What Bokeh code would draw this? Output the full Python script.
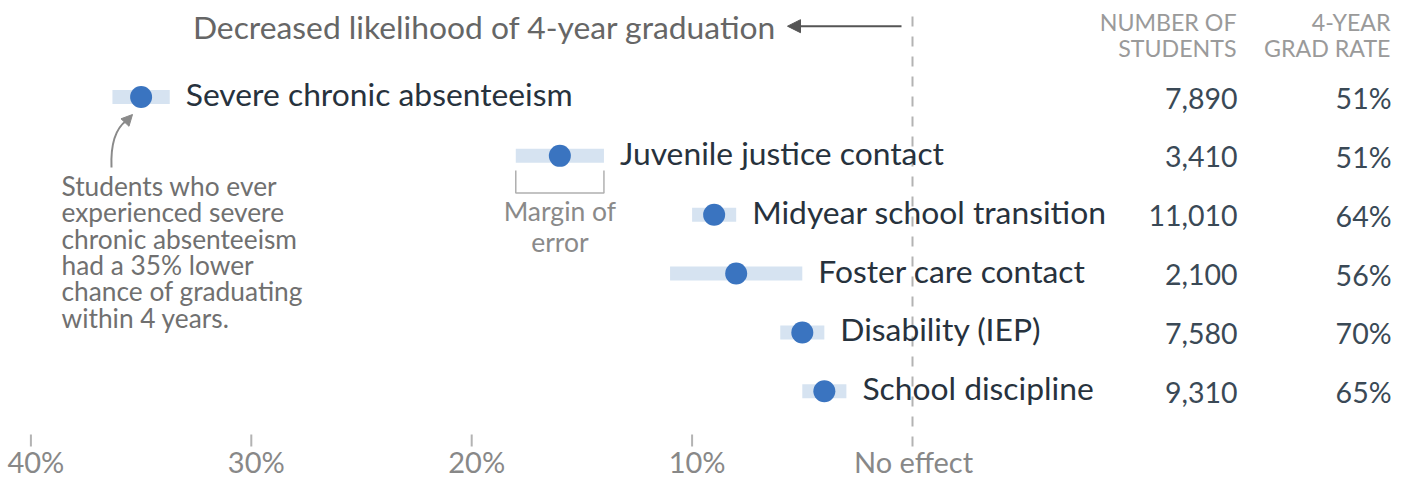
from bokeh.plotting import figure
from bokeh.models import Range1d, Arrow, NormalHead, ColumnDataSource
from bokeh.core.properties import value
from bokeh.embed import file_html
from bokeh.resources import INLINE

# ---------------- data ----------------
categories = ["Severe chronic absenteeism", "Juvenile justice contact",
              "Midyear school transition", "Foster care contact",
              "Disability (IEP)", "School discipline"]
effect = [35.0, 16.0, 9.0, 8.0, 5.0, 4.0]          # decrease in likelihood (%)
ci_low = [33.7, 14.0, 8.0, 5.0, 4.0, 3.0]
ci_high = [36.3, 18.0, 10.0, 11.0, 6.0, 5.0]
n_students = [7890, 3410, 11010, 2100, 7580, 9310]
grad_rate = [51, 51, 64, 56, 70, 65]
tick_values = [40, 30, 20, 10, 0]
tick_labels = ["40%", "30%", "20%", "10%", "No effect"]

# ---------------- geometry helpers (figure pixels -> data) ----------------
S = 22.04      # px per percentage point
ROW = 58.86    # px per row


def px2x(px):
    return (912 - px) / S


def py2y(py):
    return (py - 96.5) / ROW


FONT = value("Lato")
DARK = "#27323d"
NUM = "#3a4956"
GRAY = "#707070"
LIGHT = "#9a9a9a"
DOT = "#3a74c0"
BAR = "#d6e3f1"

p = figure(width=1392, height=482, output_backend="svg", toolbar_location=None,
           x_range=Range1d(px2x(0), px2x(1392)), y_range=Range1d(py2y(482), py2y(0)),
           min_border=0, min_border_left=0, min_border_right=0,
           min_border_top=0, min_border_bottom=0)
p.axis.visible = False
p.grid.visible = False
p.outline_line_color = None
p.background_fill_color = "white"
p.border_fill_color = "white"

rows = list(range(len(categories)))
src = ColumnDataSource(dict(
    y=rows, cat=categories, eff=effect, lo=ci_low, hi=ci_high,
    n=[f"{v:,}" for v in n_students], g=[f"{v}%" for v in grad_rate],
    yl=[r - 3.0 / ROW for r in rows], yn=[r + 1.0 / ROW for r in rows],
    xn=[px2x(1237)] * len(rows), xg=[px2x(1391)] * len(rows),
))

# no-effect dashed line
p.segment(x0=[0], y0=[py2y(16)], x1=[0], y1=[py2y(449)], line_color="#b3b3b3",
          line_width=2, line_dash="10 10")

# error bars and dots
p.segment(x0="lo", y0="y", x1="hi", y1="y", source=src, line_color=BAR,
          line_width=14, line_cap="butt")
p.scatter(x="eff", y="y", source=src, size=22, fill_color=DOT, line_color=None)

# category labels
p.text(x="lo", y="yl", text="cat", source=src, x_offset=16, text_font=FONT,
       text_font_size="31.8px", text_color=DARK, text_baseline="middle",
       text_align="left")

# table values
p.text(x="xn", y="yn", text="n", source=src, text_font=FONT, text_font_size="28.5px",
       text_color=NUM, text_baseline="middle", text_align="right")
p.text(x="xg", y="yn", text="g", source=src, text_font=FONT, text_font_size="28.5px",
       text_color=NUM, text_baseline="middle", text_align="right")

# column headers
hx = [px2x(1236), px2x(1236), px2x(1390), px2x(1390)]
hy = [py2y(21.5), py2y(47), py2y(21.5), py2y(47)]
p.text(x=hx, y=hy, text=["NUMBER OF", "STUDENTS", "4-YEAR", "GRAD RATE"],
       text_font=FONT, text_font_size="23.2px", text_color=LIGHT,
       text_baseline="middle", text_align="right")

# top direction label + arrow
p.text(x=[px2x(776)], y=[py2y(26.5)], text=["Decreased likelihood of 4-year graduation"],
       text_font=FONT, text_font_size="31.8px", text_color="#666666",
       text_baseline="middle", text_align="right")
p.add_layout(Arrow(x_start=px2x(901), y_start=py2y(25.7), x_end=px2x(787), y_end=py2y(25.7),
                   line_color="#555555", line_width=2,
                   end=NormalHead(size=13, fill_color="#555555", line_color="#555555")))

# x ticks and labels
TICK_TOP, TICK_BOT, LAB_Y = 434, 446, 461
p.segment(x0=tick_values[:-1], y0=[py2y(TICK_TOP)] * 4, x1=tick_values[:-1],
          y1=[py2y(TICK_BOT)] * 4, line_color="#b3b3b3", line_width=2)
p.text(x=tick_values[:-1], y=[py2y(LAB_Y)] * 4, text=tick_labels[:-1], x_offset=5,
       text_font=FONT, text_font_size="29px", text_color="#888888",
       text_baseline="middle", text_align="center")
p.text(x=[tick_values[-1]], y=[py2y(LAB_Y)], text=[tick_labels[-1]], x_offset=1,
       text_font=FONT, text_font_size="29px", text_color="#888888",
       text_baseline="middle", text_align="center")

# annotation for severe chronic absenteeism
note = ["Students who ever", "experienced severe", "chronic absenteeism",
        "had a 35% lower", "chance of graduating", "within 4 years."]
p.text(x=[px2x(61)] * len(note), y=[py2y(185.5 + 26.3 * k) for k in range(len(note))],
       text=note, text_font=FONT, text_font_size="26.3px", text_color=GRAY,
       text_baseline="middle", text_align="left")
p.bezier(x0=[px2x(111)], y0=[py2y(167)], x1=[px2x(126)], y1=[py2y(120)],
         cx0=[px2x(110)], cy0=[py2y(143)], cx1=[px2x(115)], cy1=[py2y(128)],
         line_color="#8a8a8a", line_width=2)
p.add_layout(Arrow(x_start=px2x(125), y_start=py2y(121.5), x_end=px2x(132), y_end=py2y(114),
                   line_color="#8a8a8a", line_width=2,
                   end=NormalHead(size=11, fill_color="#8a8a8a", line_color="#8a8a8a")))

# margin of error bracket (juvenile justice row)
j = 1
p.line(x=[ci_high[j], ci_high[j], ci_low[j], ci_low[j]],
       y=[py2y(170), py2y(192.5), py2y(192.5), py2y(170)],
       line_color="#b0b0b0", line_width=1.5)
p.text(x=[effect[j]] * 2, y=[py2y(210.5), py2y(241.5)], text=["Margin of", "error"],
       text_font=FONT, text_font_size="26.5px", text_color="#8a8a8a",
       text_baseline="middle", text_align="center")

open("out.html", "w").write(file_html(p, INLINE))
